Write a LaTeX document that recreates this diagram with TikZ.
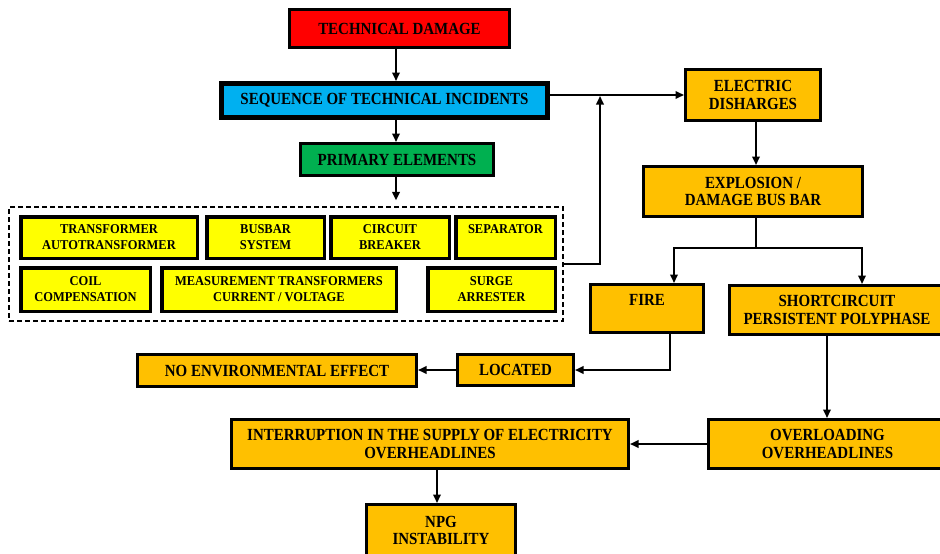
\documentclass[tikz,border=0pt]{standalone}
\usepackage{fontspec}
\setmainfont{Liberation Serif}[FakeStretch=0.88]
\newfontfamily\yfont{Liberation Serif}[FakeStretch=0.925]
\usetikzlibrary{arrows.meta,calc}
\definecolor{tdred}{HTML}{FF0000}
\definecolor{seqblue}{HTML}{00B0F0}
\definecolor{pegreen}{HTML}{00B050}
\definecolor{ylw}{HTML}{FFFF00}
\definecolor{org}{HTML}{FFC000}
\begin{document}
\begin{tikzpicture}[x=1pt,y=-1pt,
  box/.style={draw=black, line width=3pt, inner sep=0pt, align=center,
    font=\fontsize{17}{17.7}\selectfont\bfseries},
  obox/.style={box, fill=org},
  ybox/.style={draw=black, line width=3.5pt, fill=ylw, inner sep=0pt, align=center,
    font=\yfont\fontsize{13.5}{16}\selectfont\bfseries},
  arr/.style={line width=2pt, -{Triangle[length=8.5pt,width=7.5pt]}},
  ln/.style={line width=2pt}]
\useasboundingbox (0,0) rectangle (940,554);
\clip (0,0) rectangle (940,554);
\fill[white] (0,0) rectangle (940,554);

% top chain
\node[box, fill=tdred, minimum width=220pt, minimum height=38pt] (td) at (399.5,28.5) {TECHNICAL DAMAGE};
\node[box, fill=seqblue, line width=5pt, minimum width=326pt, minimum height=34pt] (seq) at (384.5,100.5) {SEQUENCE OF TECHNICAL INCIDENTS};
\node[box, fill=pegreen, minimum width=193pt, minimum height=32pt] (pe) at (397,159.5) {PRIMARY ELEMENTS};

% dashed group
\node[draw=black, line width=1.3pt, dash pattern=on 5pt off 3pt, minimum width=554pt, minimum height=114pt, inner sep=0pt] (dash) at (286,264) {};
\node[ybox, minimum width=176.5pt, minimum height=41.5pt] (tr) at (109,237.5) {TRANSFORMER\\AUTOTRANSFORMER};
\node[ybox, minimum width=117.5pt, minimum height=41.5pt] (bb) at (265.5,237.5) {BUSBAR\\SYSTEM};
\node[ybox, minimum width=118.5pt, minimum height=41.5pt] (cb) at (390,237.5) {CIRCUIT\\BREAKER};
\node[ybox, minimum width=99.5pt, minimum height=41.5pt] (sepa) at (505.5,237.5) {SEPARATOR\\~};
\node[ybox, minimum width=129.5pt, minimum height=43.5pt] (coil) at (85.5,289.5) {COIL\\COMPENSATION};
\node[ybox, minimum width=234.5pt, minimum height=43.5pt] (meas) at (279,289.5) {MEASUREMENT TRANSFORMERS\\CURRENT / VOLTAGE};
\node[ybox, minimum width=127.5pt, minimum height=43.5pt] (surge) at (491.5,289.5) {SURGE\\ARRESTER};

% right / lower chain
\node[obox, minimum width=135pt, minimum height=51pt] (ed) at (753,95) {ELECTRIC\\DISHARGES};
\node[obox, minimum width=219pt, minimum height=50pt] (exp) at (753,191.5) {EXPLOSION /\\DAMAGE BUS BAR};
\node[obox, minimum width=113pt, minimum height=48pt] (fire) at (647,308.5) {FIRE\\~};
\node[obox, minimum width=215pt, minimum height=49pt] (short) at (837,310) {SHORTCIRCUIT\\PERSISTENT POLYPHASE};
\node[obox, minimum width=116pt, minimum height=31pt] (loc) at (515.5,370) {LOCATED};
\node[obox, minimum width=279pt, minimum height=32pt] (noenv) at (277,370.5) {NO ENVIRONMENTAL EFFECT};
\node[obox, minimum width=397pt, minimum height=49pt] (inter) at (430,444) {INTERRUPTION IN THE SUPPLY OF ELECTRICITY\\OVERHEADLINES};
\node[obox, minimum width=238pt, minimum height=49pt] (over) at (827.5,444) {OVERLOADING\\OVERHEADLINES};
\node[obox, minimum width=149pt, minimum height=52pt] (npg) at (441,530.5) {NPG\\INSTABILITY};

% helper coordinates
\coordinate (cx) at (396,0);
\coordinate (j) at (600,95);
\coordinate (sp) at (756,248);
\coordinate (fa) at (674,248);
\coordinate (sa) at (862,248);
\coordinate (fb) at (670,370);
\coordinate (sb) at (827,0);
\coordinate (nb) at (437,0);

% connectors
\draw[arr] (td.south -| cx) -- (seq.north -| cx);
\draw[arr] (seq.south -| cx) -- (pe.north -| cx);
\draw[arr, shorten >=6pt] (pe.south -| cx) -- (dash.north -| cx);
\draw[arr] (seq.east |- ed.west) -- (ed.west);
\draw[arr, shorten >=1pt] (dash.east) -| (j);
\draw[arr] ($(ed.south)+(3,0)$) -- ($(exp.north)+(3,0)$);
\draw[ln] ($(exp.south)+(3,0)$) -- (sp);
\draw[arr] (sp) -| (fire.north -| fa);
\draw[arr] (sp) -| (short.north -| sa);
\draw[arr] (fire.south -| fb) |- (loc.east);
\draw[arr] (loc.west) -- (loc.west -| noenv.east);
\draw[arr] (short.south -| sb) -- (over.north -| sb);
\draw[arr] (over.west) -- (over.west -| inter.east);
\draw[arr] (inter.south -| nb) -- (npg.north -| nb);
\end{tikzpicture}
\end{document}
